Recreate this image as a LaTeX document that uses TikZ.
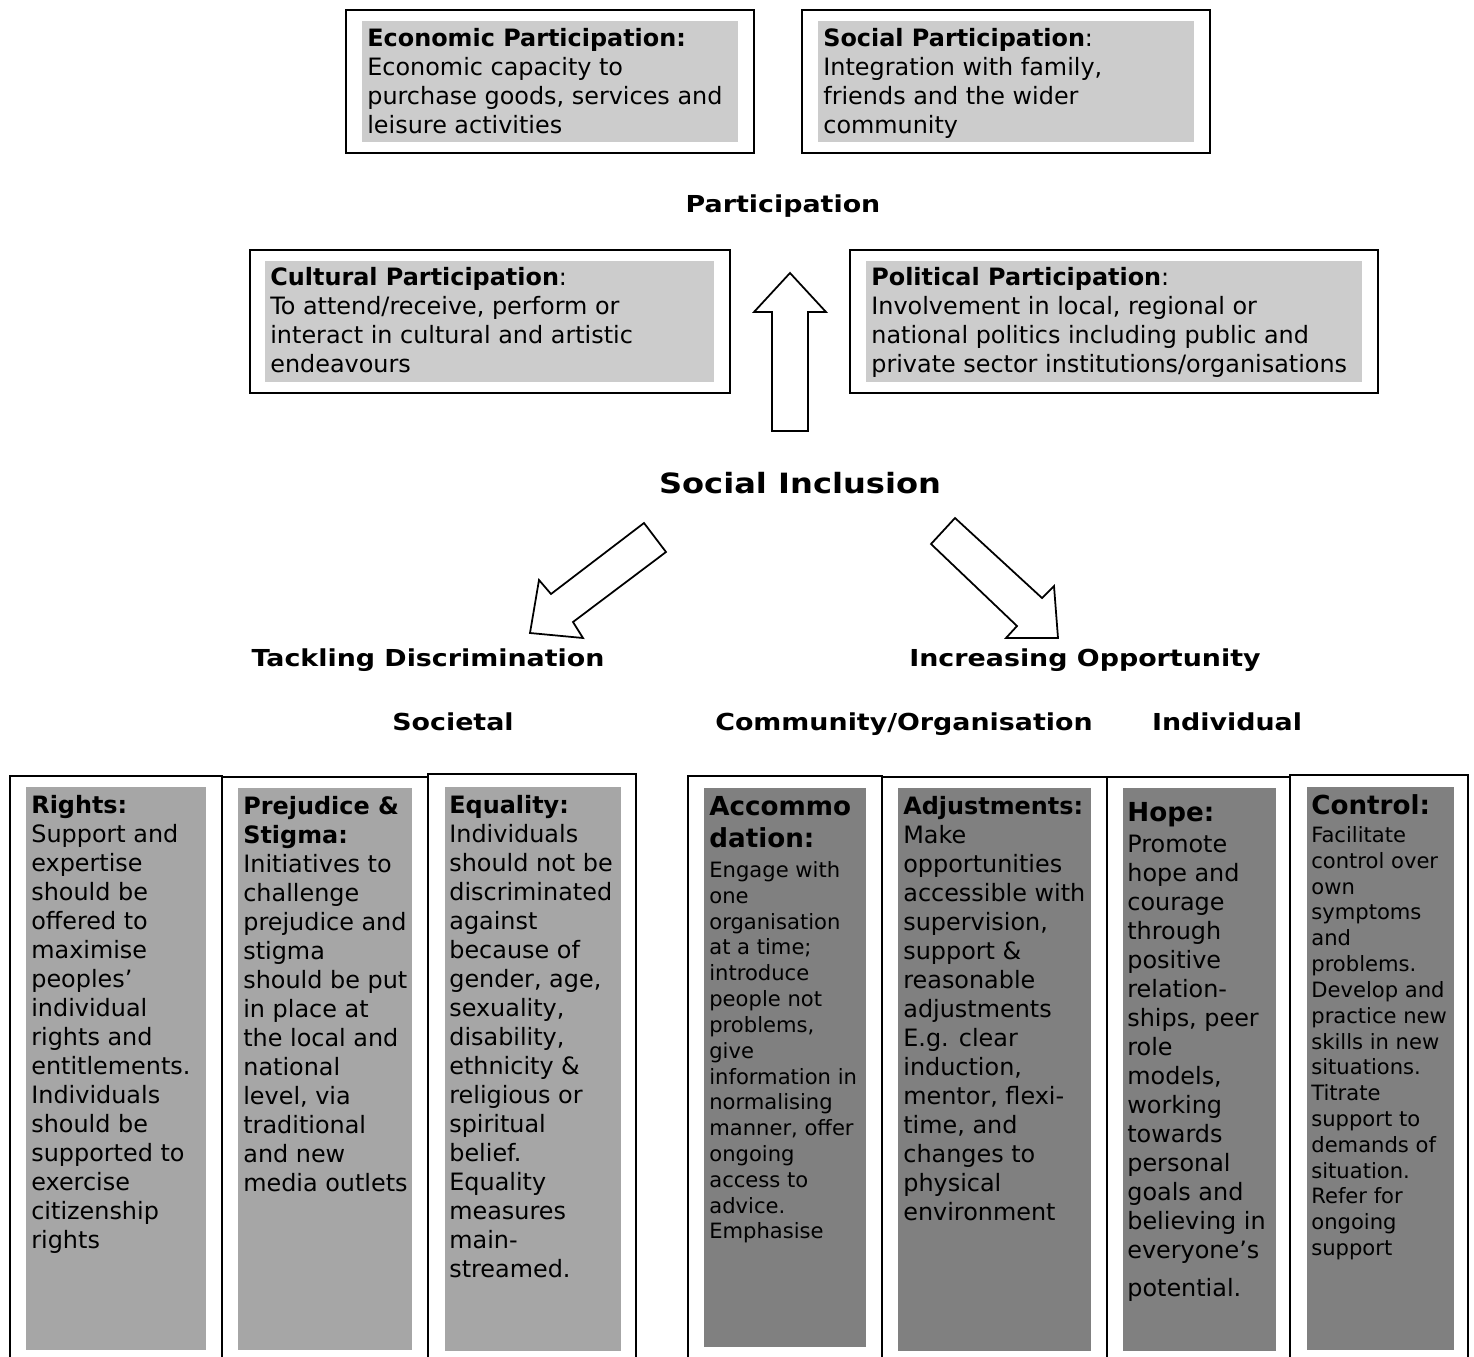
\documentclass[tikz,border=0pt]{standalone}
\usepackage{fontspec}
\setmainfont{DejaVu Sans}
\newfontfamily\widefont{DejaVu Sans}[FakeStretch=1.15]
\definecolor{paleGray}{HTML}{CCCCCC}
\definecolor{midGray}{HTML}{A6A6A6}
\definecolor{darkGray}{HTML}{808080}

\begin{document}
\begin{tikzpicture}[x=0.02cm, y=-0.02cm, every node/.style={inner sep=0pt},
  boxframe/.style={draw, line width=1.1pt},
  bodytext/.style={anchor=north west, align=left, font=\fontsize{13.6}{16.5}\selectfont},
  smalltext/.style={anchor=north west, align=left, font=\fontsize{12}{14.7}\selectfont},
  headtext/.style={anchor=north west, align=left, font=\fontsize{14.9}{18.1}\selectfont\bfseries},
  titletext/.style={anchor=base, font=\widefont\fontsize{13.3}{16.5}\selectfont\bfseries},
  fatarrow/.style={draw, line width=1pt, fill=white, line join=miter}]
\useasboundingbox (0,0) rectangle (1474,1356);
\clip (0,0) rectangle (1474,1356);

\draw[boxframe] (346,10) rectangle (754,153);
\fill[paleGray] (362,21) rectangle (738,142);
\node[bodytext] (econ) at (367,28) {\textbf{Economic Participation:}\\Economic capacity to\\purchase goods, services and\\leisure activities};
\draw[boxframe] (802,10) rectangle (1210,153);
\fill[paleGray] (818,21) rectangle (1194,142);
\node[bodytext] (soc) at (823,28) {\textbf{Social Participation}:\\Integration with family,\\friends and the wider\\community};

\node[titletext] (partic) at (783,212) {Participation};

\draw[boxframe] (250,250) rectangle (730,393);
\fill[paleGray] (265,261) rectangle (714,382);
\node[bodytext] (cult) at (270,267) {\textbf{Cultural Participation}:\\To attend/receive, perform or\\interact in cultural and artistic\\endeavours};
\draw[boxframe] (850,250) rectangle (1378,393);
\fill[paleGray] (866,261) rectangle (1362,382);
\node[bodytext] (pol) at (871,267) {\textbf{Political Participation}:\\Involvement in local, regional or\\national politics including public and\\private sector institutions/organisations};

\draw[fatarrow] (790,273) -- (826,312) -- (808,312) -- (808,431) -- (772,431) -- (772,312) -- (754,312) -- cycle;

\node[titletext, font=\widefont\fontsize{15.9}{20}\selectfont\bfseries] (incl) at (800,493) {Social Inclusion};

\draw[fatarrow] (644,523) -- (666,552) -- (573,622) -- (583,638) -- (530,633) -- (539,580) -- (551,594) -- cycle;
\draw[fatarrow] (955,518) -- (931,544) -- (1017,626) -- (1006,638) -- (1058,638) -- (1054,586) -- (1042,598) -- cycle;

\node[titletext] (tackle) at (428,666) {Tackling Discrimination};
\node[titletext] (oppor) at (1085,666) {Increasing Opportunity};
\node[titletext] (societal) at (453,730) {Societal};
\node[titletext] (commun) at (904,730) {Community/Organisation};
\node[titletext] (indiv) at (1227,730) {Individual};

\draw[boxframe] (10,776) rectangle (222,1400);
\draw[boxframe] (222,777) rectangle (428,1400);
\draw[boxframe] (428,774) rectangle (636,1400);
\draw[boxframe] (688,776) rectangle (882,1400);
\draw[boxframe] (882,777) rectangle (1107,1400);
\draw[boxframe] (1107,777) rectangle (1290,1400);
\draw[boxframe] (1290,775) rectangle (1468,1400);

\fill[midGray] (26,787) rectangle (206,1350);
\fill[midGray] (238,788) rectangle (412,1350);
\fill[midGray] (445,787) rectangle (621,1351);
\fill[darkGray] (704,788) rectangle (866,1347);
\fill[darkGray] (898,788) rectangle (1091,1351);
\fill[darkGray] (1123,788) rectangle (1276,1351);
\fill[darkGray] (1307,787) rectangle (1454,1350);

\node[bodytext] (rights) at (31,795) {\textbf{Rights:}\\Support and\\expertise\\should be\\offered to\\maximise\\peoples’\\individual\\rights and\\entitlements.\\Individuals\\should be\\supported to\\exercise\\citizenship\\rights};
\node[bodytext] (stigma) at (243,796) {\textbf{Prejudice \&}\\\textbf{Stigma:}\\Initiatives to\\challenge\\prejudice and\\stigma\\should be put\\in place at\\the local and\\national\\level, via\\traditional\\and new\\media outlets};
\node[bodytext] (equal) at (449,795) {\textbf{Equality:}\\Individuals\\should not be\\discriminated\\against\\because of\\gender, age,\\sexuality,\\disability,\\ethnicity \&\\religious or\\spiritual\\belief.\\Equality\\measures\\main-\\streamed.};

\node[headtext] (accomH) at (709,796) {Accommo\\dation:};
\node[smalltext] (accom) at (709,861) {Engage with\\one\\organisation\\at a time;\\introduce\\people not\\problems,\\give\\information in\\normalising\\manner, offer\\ongoing\\access to\\advice.\\Emphasise};
\node[bodytext] (adjust) at (903,796) {\textbf{Adjustments:}\\Make\\opportunities\\accessible with\\supervision,\\support \&\\reasonable\\adjustments\\E.g. clear\\induction,\\mentor, flexi-\\time, and\\changes to\\physical\\environment};
\node[headtext] (hopeH) at (1127,802) {Hope:};
\node[bodytext] (hope) at (1127,835) {Promote\\hope and\\courage\\through\\positive\\relation-\\ships, peer\\role\\models,\\working\\towards\\personal\\goals and\\believing in\\everyone’s\\[5pt]potential.};
\node[headtext] (ctrlH) at (1311,794) {Control:};
\node[smalltext] (ctrl) at (1311,826) {Facilitate\\control over\\own\\symptoms\\and\\problems.\\Develop and\\practice new\\skills in new\\situations.\\Titrate\\support to\\demands of\\situation.\\Refer for\\ongoing\\support};
\end{tikzpicture}
\end{document}
